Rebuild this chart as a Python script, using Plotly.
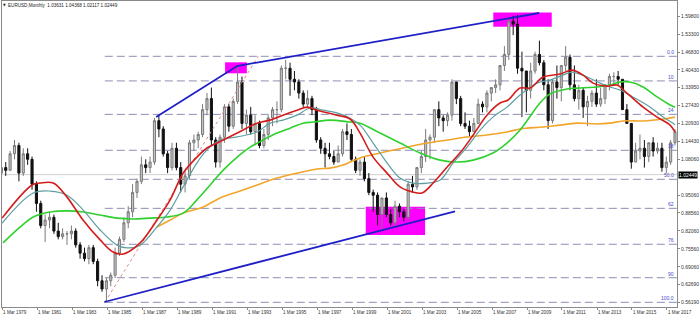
import plotly.graph_objects as go
import pandas as pd

# ---------------- quarterly OHLC (1979Q1 .. 2017Q3) ----------------
q_open = [
    1.03, 1.05, 1.04, 1.10,  1.13, 1.03, 1.10, 1.08,  0.99, 0.92, 0.84, 0.86,
    0.87, 0.82, 0.80, 0.81,  0.81, 0.82, 0.77, 0.74,  0.72, 0.76, 0.71, 0.64,
    0.61, 0.64, 0.66, 0.74,  0.79, 0.85, 0.89, 0.96,  1.00, 1.06, 1.05, 1.07,
    1.22, 1.19, 1.10, 1.05,  1.12, 1.05, 0.99, 1.02,  1.14, 1.15, 1.17, 1.26,
    1.30, 1.15, 1.07, 1.16,  1.27, 1.20, 1.29, 1.36,  1.21, 1.24, 1.18, 1.21,
    1.13, 1.17, 1.23, 1.26,  1.26, 1.41, 1.41, 1.37,  1.36, 1.32, 1.28, 1.30,
    1.26, 1.15, 1.12, 1.10,  1.09, 1.07, 1.10, 1.18,  1.17, 1.08, 1.04, 1.07,
    1.01, 0.96, 0.95, 0.88,  0.94, 0.88, 0.85, 0.91,  0.89, 0.87, 0.99, 0.98,
    1.05, 1.09, 1.15, 1.16,  1.26, 1.23, 1.22, 1.24,  1.36, 1.30, 1.21, 1.20,
    1.18, 1.21, 1.28, 1.27,  1.32, 1.34, 1.35, 1.42,  1.46, 1.58, 1.57, 1.41,
    1.40, 1.33, 1.40, 1.46,  1.43, 1.35, 1.22, 1.36,  1.34, 1.42, 1.45, 1.35,
    1.30, 1.33, 1.27, 1.29,  1.32, 1.28, 1.30, 1.35,  1.38, 1.38, 1.37, 1.26,
    1.21, 1.07, 1.11, 1.12,  1.09, 1.14, 1.11, 1.12,  1.05, 1.07, 1.14,
]
q_high = [
    1.06, 1.07, 1.11, 1.15,  1.14, 1.12, 1.12, 1.09,  1.00, 0.93, 0.88, 0.89,
    0.88, 0.85, 0.83, 0.82,  0.84, 0.83, 0.78, 0.76,  0.77, 0.77, 0.72, 0.66,
    0.65, 0.67, 0.76, 0.80,  0.87, 0.91, 0.99, 1.01,  1.09, 1.08, 1.09, 1.23,
    1.24, 1.20, 1.11, 1.14,  1.14, 1.07, 1.04, 1.15,  1.17, 1.18, 1.28, 1.32,
    1.34, 1.16, 1.17, 1.28,  1.28, 1.30, 1.42, 1.38,  1.26, 1.27, 1.24, 1.22,
    1.19, 1.24, 1.27, 1.29,  1.42, 1.44, 1.43, 1.40,  1.37, 1.33, 1.33, 1.31,
    1.27, 1.16, 1.14, 1.14,  1.11, 1.13, 1.19, 1.21,  1.19, 1.09, 1.08, 1.09,
    1.03, 0.97, 0.96, 0.94,  0.96, 0.90, 0.93, 0.92,  0.90, 1.00, 1.02, 1.05,
    1.11, 1.19, 1.17, 1.26,  1.29, 1.24, 1.25, 1.37,  1.36, 1.31, 1.25, 1.22,
    1.23, 1.30, 1.29, 1.33,  1.34, 1.37, 1.42, 1.49,  1.59, 1.60, 1.604, 1.47,
    1.40, 1.43, 1.47, 1.51,  1.44, 1.37, 1.37, 1.42,  1.42, 1.49, 1.46, 1.42,
    1.35, 1.34, 1.31, 1.33,  1.37, 1.34, 1.35, 1.39,  1.395, 1.40, 1.37, 1.28,
    1.21, 1.14, 1.17, 1.15,  1.14, 1.16, 1.14, 1.14,  1.09, 1.15, 1.19,
]
q_low = [
    1.02, 1.02, 1.04, 1.08,  1.00, 1.02, 1.06, 0.97,  0.89, 0.83, 0.78, 0.83,
    0.81, 0.79, 0.79, 0.77,  0.79, 0.76, 0.72, 0.71,  0.70, 0.70, 0.62, 0.60,
    0.562, 0.62, 0.65, 0.73, 0.78, 0.83, 0.87, 0.94,  0.99, 1.03, 1.03, 1.06,
    1.16, 1.09, 1.03, 1.04,  1.04, 0.96, 0.96, 1.01,  1.11, 1.12, 1.16, 1.24,
    1.13, 1.05, 1.05, 1.14,  1.18, 1.19, 1.28, 1.19,  1.17, 1.17, 1.13, 1.12,
    1.12, 1.15, 1.20, 1.21,  1.25, 1.37, 1.31, 1.33,  1.30, 1.27, 1.27, 1.24,
    1.14, 1.10, 1.05, 1.08,  1.06, 1.07, 1.09, 1.15,  1.07, 1.03, 1.02, 1.00,
    0.95, 0.89, 0.84, 0.823, 0.87, 0.84, 0.834, 0.87, 0.855, 0.86, 0.96, 0.97,
    1.03, 1.07, 1.08, 1.14,  1.20, 1.18, 1.20, 1.22,  1.28, 1.20, 1.19, 1.16,
    1.18, 1.21, 1.25, 1.25,  1.29, 1.32, 1.33, 1.40,  1.44, 1.53, 1.39, 1.233,
    1.25, 1.30, 1.39, 1.42,  1.33, 1.19, 1.21, 1.30,  1.29, 1.40, 1.33, 1.29,
    1.26, 1.23, 1.20, 1.27,  1.27, 1.27, 1.28, 1.33,  1.35, 1.35, 1.26, 1.21,
    1.046, 1.07, 1.08, 1.05, 1.07, 1.09, 1.10, 1.035, 1.03, 1.06, 1.13,
]
q_close = [
    1.05, 1.04, 1.10, 1.13,  1.03, 1.10, 1.08, 0.99,  0.92, 0.84, 0.86, 0.87,
    0.82, 0.80, 0.81, 0.81,  0.82, 0.77, 0.74, 0.72,  0.76, 0.71, 0.64, 0.61,
    0.64, 0.66, 0.74, 0.79,  0.85, 0.89, 0.96, 1.00,  1.06, 1.05, 1.07, 1.22,
    1.19, 1.10, 1.05, 1.12,  1.05, 0.99, 1.02, 1.14,  1.15, 1.17, 1.26, 1.30,
    1.15, 1.07, 1.16, 1.27,  1.20, 1.29, 1.36, 1.21,  1.24, 1.18, 1.21, 1.13,
    1.17, 1.23, 1.26, 1.26,  1.41, 1.41, 1.37, 1.36,  1.32, 1.28, 1.30, 1.26,
    1.15, 1.12, 1.10, 1.09,  1.07, 1.10, 1.18, 1.17,  1.08, 1.04, 1.07, 1.01,
    0.96, 0.95, 0.88, 0.94,  0.88, 0.85, 0.91, 0.89,  0.87, 0.99, 0.98, 1.05,
    1.09, 1.15, 1.16, 1.26,  1.23, 1.22, 1.24, 1.36,  1.30, 1.21, 1.20, 1.18,
    1.21, 1.28, 1.27, 1.32,  1.34, 1.35, 1.42, 1.46,  1.58, 1.57, 1.41, 1.40,
    1.33, 1.40, 1.46, 1.43,  1.35, 1.22, 1.36, 1.34,  1.42, 1.45, 1.35, 1.30,
    1.33, 1.27, 1.29, 1.32,  1.28, 1.30, 1.35, 1.38,  1.38, 1.37, 1.26, 1.21,
    1.07, 1.11, 1.12, 1.09,  1.14, 1.11, 1.12, 1.05,  1.07, 1.14, 1.18,
]
quarters = pd.period_range("1979Q1", periods=len(q_close), freq="Q")
q_dates = [(p.start_time + pd.Timedelta(days=45)).strftime("%Y-%m-%d") for p in quarters]

# ---------------- moving averages ----------------
ma_red_x = ['1979-03-01','1980-11-15','1981-05-01','1982-02-01','1982-11-15','1983-10-15','1984-10-07',
            '1985-07-05','1986-02-01','1987-01-20','1988-01-07','1988-10-07','1989-07-05','1990-04-20',
            '1990-11-15','1991-06-15','1992-08-07','1993-09-27','1994-06-25','1995-03-20','1996-01-07',
            '1996-08-07','1997-03-01','1998-04-20','1999-01-20','1999-08-15','2000-05-15','2001-03-01',
            '2001-11-27','2002-08-07','2003-03-01','2003-10-20','2004-08-07','2005-06-17','2006-02-01',
            '2006-11-15','2007-08-15','2008-01-30','2008-10-07','2009-05-05','2010-02-01','2011-01-20',
            '2011-09-27','2012-05-15','2012-12-10','2013-09-27','2014-04-20','2014-11-15','2015-10-20',
            '2016-08-07','2017-05-05','2017-08-15']
ma_red_y = [0.867, 0.987, 0.994, 0.994, 0.943, 0.860, 0.788,
            0.744, 0.737, 0.777, 0.860, 0.933, 1.030, 1.088,
            1.121, 1.139, 1.175, 1.211, 1.222, 1.240, 1.258,
            1.269, 1.258, 1.240, 1.226, 1.175, 1.088, 1.030,
            0.980, 0.962, 0.958, 0.994, 1.052, 1.113, 1.168,
            1.240, 1.284, 1.295, 1.338, 1.338, 1.378, 1.389,
            1.403, 1.385, 1.356, 1.345, 1.349, 1.320, 1.269,
            1.233, 1.204, 1.179]

ma_teal_x = ['1979-03-01','1980-12-10','1981-11-27','1982-11-15','1983-10-20','1984-10-07','1985-09-27',
             '1986-04-20','1987-01-20','1988-01-07','1988-10-07','1989-07-05','1990-04-20','1990-11-15',
             '1991-08-15','1992-08-07','1993-09-27','1994-06-25','1995-03-20','1996-01-07','1996-10-07',
             '1997-07-05','1998-04-20','1999-01-20','1999-08-15','2000-05-15','2001-03-01','2001-11-27',
             '2002-08-25','2003-06-15','2004-03-15','2004-12-10','2005-09-27','2006-06-25','2007-03-20',
             '2008-01-07','2008-10-07','2009-09-27','2010-06-25','2011-03-20','2011-09-27','2012-08-07',
             '2013-05-05','2013-11-27','2014-06-25','2015-03-20','2016-03-15','2016-12-10','2017-07-05',
             '2017-08-15']
ma_teal_y = [0.849, 0.958, 0.965, 0.950, 0.896, 0.824, 0.769,
             0.759, 0.769, 0.835, 0.896, 0.980, 1.067, 1.114,
             1.150, 1.161, 1.179, 1.211, 1.222, 1.240, 1.266,
             1.258, 1.248, 1.229, 1.204, 1.139, 1.067, 1.012,
             0.994, 0.994, 1.005, 1.067, 1.124, 1.186, 1.233,
             1.269, 1.313, 1.356, 1.367, 1.385, 1.396, 1.378,
             1.356, 1.342, 1.331, 1.306, 1.269, 1.233, 1.211,
             1.204]

ma_green_x = ['1979-03-20','1980-03-15','1980-12-10','1981-11-27','1982-11-15','1983-10-20','1984-10-07',
              '1985-09-27','1986-08-25','1987-08-15','1988-08-07','1989-07-05','1990-04-20','1991-01-20',
              '1991-10-20','1992-08-07','1993-05-05','1994-02-01','1994-11-15','1995-08-15','1996-05-15',
              '1996-12-10','1997-11-27','1999-01-20','1999-08-15','2000-10-07','2001-11-27','2003-01-20',
              '2004-03-15','2005-03-01','2006-02-01','2007-03-20','2008-01-07','2008-10-07','2009-11-27',
              '2010-06-25','2011-06-15','2012-01-07','2013-03-01','2013-11-27','2014-06-25','2015-01-20',
              '2015-10-20','2016-08-07','2017-05-05','2017-08-15']
ma_green_y = [0.777, 0.835, 0.871, 0.889, 0.893, 0.889, 0.878,
              0.867, 0.864, 0.867, 0.871, 0.885, 0.933, 0.987,
              1.041, 1.088, 1.124, 1.150, 1.175, 1.193, 1.211,
              1.215, 1.222, 1.215, 1.211, 1.175, 1.139, 1.103,
              1.077, 1.070, 1.077, 1.103, 1.139, 1.186, 1.284,
              1.317, 1.335, 1.338, 1.342, 1.349, 1.360, 1.360,
              1.342, 1.306, 1.277, 1.269]

ma_orange_x = ['1988-01-07','1988-10-07','1989-07-05','1990-08-25','1991-08-15','1992-08-07','1993-09-27',
               '1994-11-15','1996-01-07','1997-03-01','1997-11-27','1998-08-25','1999-01-20','1999-08-15',
               '2000-10-07','2002-04-20','2003-06-15','2004-08-07','2005-09-27','2006-11-15','2008-01-07',
               '2008-10-07','2009-03-01','2010-02-01','2011-01-20','2012-01-07','2013-03-01','2013-11-27',
               '2014-08-25','2015-10-20','2016-12-10','2017-08-15']
ma_orange_y = [0.835, 0.860, 0.885, 0.907, 0.940, 0.962, 0.987,
               1.012, 1.030, 1.045, 1.048, 1.059, 1.070, 1.085,
               1.103, 1.124, 1.139, 1.150, 1.161, 1.168, 1.179,
               1.190, 1.193, 1.197, 1.204, 1.211, 1.208, 1.211,
               1.219, 1.219, 1.226, 1.233]

# ---------------- drawn objects ----------------
fib_start = '1985-01-12'
fib_end = '1993-10-20'
fib_low = 0.5619
fib_high = 1.4532
fib_levels = [0, 10, 23.6, 38.2, 50, 61.8, 76.4, 90, 100]
fib_labels = ["0.0", "10", "24", "38", "50.0", "62", "76", "90", "100.0"]

upper_line_x = ['1987-12-20', '1992-08-07', '2009-11-10']
upper_line_y = [1.2333, 1.4181, 1.6101]
lower_line_x = ['1985-01-01', '2005-01-19']
lower_line_y = [0.5630, 0.8916]

box_x0 = ['1991-11-28', '1999-12-13', '2007-03-28']
box_x1 = ['1993-02-24', '2003-05-04', '2010-07-30']
box_y0 = [1.3916, 0.8057, 1.5605]
box_y1 = [1.4315, 0.9083, 1.6119]

current_price = 1.02449
header = "EURUSD,Monthly\u00a0\u00a01.03631 1.04368 1.02117 1.02449"

price_ticks = [0.56190, 0.62690, 0.69060, 0.75560, 0.82060, 0.88560, 0.95060,
               1.08060, 1.14430, 1.20930, 1.27430, 1.33950, 1.40430, 1.46830, 1.53300, 1.59800]
x_tick_years = list(range(1979, 2018, 2))

x_range = ['1979-02-27', '2017-09-26']
y_range = [0.5449, 1.6536]

FONT = "Liberation Sans"

fig = go.Figure()

shapes = []
# current price line
shapes.append(dict(type="line", xref="paper", yref="y", x0=0, x1=1, y0=current_price, y1=current_price,
                   line=dict(color="#cfcfcf", width=1), layer="below"))
# magenta boxes
for a, b, c, d in zip(box_x0, box_x1, box_y0, box_y1):
    shapes.append(dict(type="rect", xref="x", yref="y", x0=a, x1=b, y0=c, y1=d,
                       fillcolor="#ff00ff", line=dict(width=0), layer="below"))
# fib levels
fib_prices = [fib_high - lv / 100 * (fib_high - fib_low) for lv in fib_levels]
for p in fib_prices:
    shapes.append(dict(type="line", xref="x", yref="y", x0=fib_start, x1=x_range[1], y0=p, y1=p,
                       line=dict(color="#8c8cb4", width=1, dash="8px,4px"), layer="below"))

annotations = []
for p, lab in zip(fib_prices, fib_labels):
    annotations.append(dict(xref="paper", yref="y", x=0.997, y=p, text=lab, showarrow=False,
                            xanchor="right", yanchor="bottom", borderpad=0,
                            font=dict(family=FONT, size=5, color="#4848c8")))
annotations.append(dict(xref="paper", yref="y", x=1, y=current_price, text="1.02449", showarrow=False,
                        xanchor="left", yanchor="middle", xshift=1, bgcolor="#000000", borderpad=0,
                        font=dict(family=FONT, size=5, color="#ffffff")))
annotations.append(dict(xref="paper", yref="paper", x=0, y=1, text="\u25bc", showarrow=False,
                        xanchor="left", yanchor="top", xshift=0, yshift=-1, borderpad=0,
                        font=dict(family="DejaVu Sans", size=3.5, color="#222222")))
annotations.append(dict(xref="paper", yref="paper", x=0, y=1, text=header, showarrow=False,
                        xanchor="left", yanchor="top", xshift=5, yshift=-1, borderpad=0,
                        font=dict(family=FONT, size=4.6, color="#222222")))

# fib diagonal (dotted)
fig.add_trace(go.Scatter(x=[fib_start, fib_end], y=[fib_low, fib_high], mode="lines",
                         line=dict(color="#e08a8a", width=1, dash="dot"), hoverinfo="skip"))

# candles
fig.add_trace(go.Candlestick(x=q_dates, open=q_open, high=q_high, low=q_low, close=q_close,
                             increasing=dict(line=dict(color="#7a7a7a", width=1), fillcolor="#c4c4c4"),
                             decreasing=dict(line=dict(color="#111111", width=1), fillcolor="#111111"),
                             whiskerwidth=0, hoverinfo="skip"))

# moving averages
fig.add_trace(go.Scatter(x=ma_orange_x, y=ma_orange_y, mode="lines",
                         line=dict(color="#f2a52a", width=1.6, shape="spline"), hoverinfo="skip"))
fig.add_trace(go.Scatter(x=ma_green_x, y=ma_green_y, mode="lines",
                         line=dict(color="#2ed12e", width=1.6, shape="spline"), hoverinfo="skip"))
fig.add_trace(go.Scatter(x=ma_teal_x, y=ma_teal_y, mode="lines",
                         line=dict(color="#5f9ea0", width=1.2, shape="spline"), hoverinfo="skip"))
fig.add_trace(go.Scatter(x=ma_red_x, y=ma_red_y, mode="lines",
                         line=dict(color="#d41c1c", width=1.6, shape="spline"), hoverinfo="skip"))

# trendlines
fig.add_trace(go.Scatter(x=upper_line_x, y=upper_line_y, mode="lines",
                         line=dict(color="#1f1fc8", width=1.8), hoverinfo="skip"))
fig.add_trace(go.Scatter(x=lower_line_x, y=lower_line_y, mode="lines",
                         line=dict(color="#1f1fc8", width=1.8), hoverinfo="skip"))

fig.update_layout(
    width=700, height=318,
    margin=dict(l=2, r=23, t=1, b=11),
    paper_bgcolor="#ffffff", plot_bgcolor="#ffffff",
    showlegend=False, hovermode=False,
    shapes=shapes, annotations=annotations,
    font=dict(family=FONT, size=5, color="#333333"),
    xaxis=dict(type="date", range=x_range, rangeslider=dict(visible=False),
               tickvals=[f"{y}-03-01" for y in x_tick_years],
               ticktext=[f"1 Mar {y}" for y in x_tick_years],
               ticklabelposition="outside right",
               ticks="outside", ticklen=2, tickcolor="#888888", tickwidth=1,
               tickfont=dict(family=FONT, size=4.6, color="#333333"),
               showgrid=False, zeroline=False,
               showline=True, linecolor="#8a8a8a", linewidth=1, mirror=True),
    yaxis=dict(range=y_range, side="right",
               tickvals=price_ticks, ticktext=[f"{v:.5f}" for v in price_ticks],
               ticks="outside", ticklen=2, tickcolor="#888888", tickwidth=1,
               tickfont=dict(family=FONT, size=5, color="#333333"),
               showgrid=False, zeroline=False,
               showline=True, linecolor="#8a8a8a", linewidth=1, mirror=True),
)

fig.write_html("out.html")
